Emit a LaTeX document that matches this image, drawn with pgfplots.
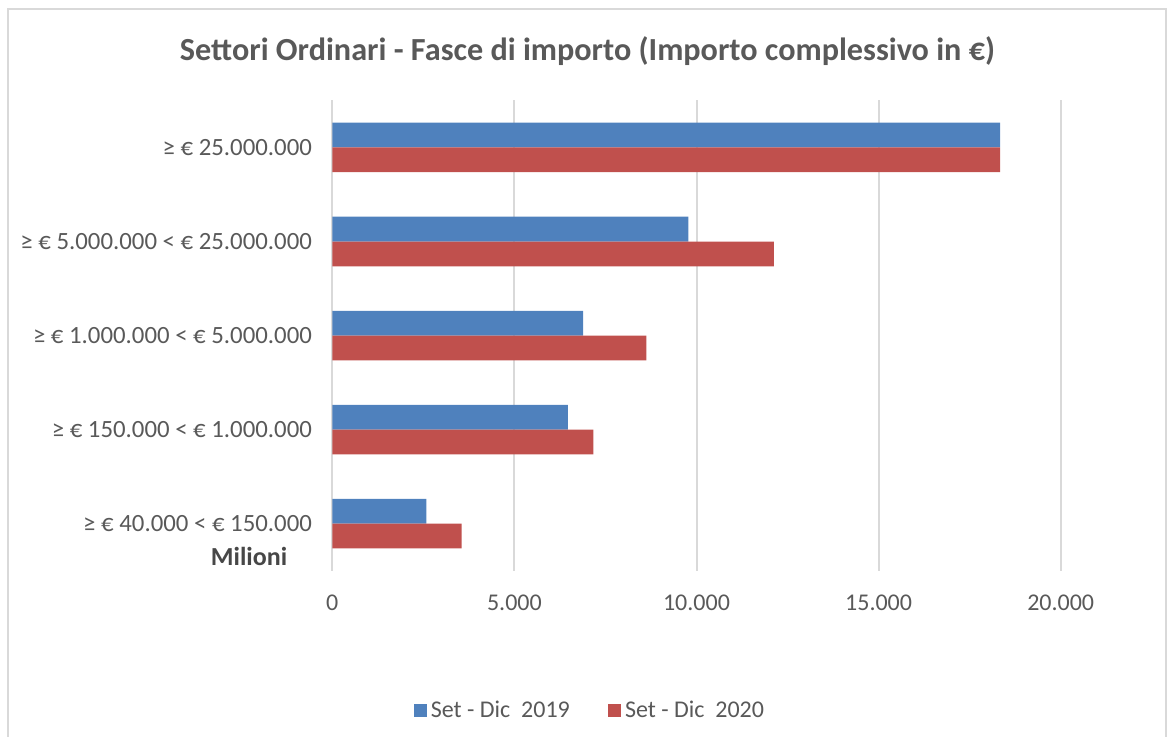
\documentclass[border=0pt]{standalone}
\usepackage{fontspec}
\setmainfont{Carlito}
\usepackage{pgfplots}
\pgfplotsset{compat=1.18}

\definecolor{serieblu}{HTML}{4F81BD}
\definecolor{serierossa}{HTML}{C0504D}
\definecolor{griglia}{HTML}{D9D9D9}
\definecolor{testo}{HTML}{595959}

\begin{document}
\begin{tikzpicture}
% page = 1167 x 737 px at 2 px per pt
\useasboundingbox (0pt,0pt) rectangle (583.5pt,-368.5pt);
\draw[griglia, line width=1pt] (3.75pt,-400pt) -- (3.75pt,-4.5pt) -- (583pt,-4.5pt) -- (583pt,-400pt);

\node[anchor=base, text=testo, font=\bfseries\fontsize{16.1}{19}\selectfont]
  at (293.75pt,-30.5pt) {Settori Ordinari - Fasce di importo (Importo complessivo in €)};
\node[text=testo!80!black, font=\bfseries\fontsize{13}{15}\selectfont]
  at (124.5pt,-278pt) {Milioni};

\begin{axis}[
    at={(166.15pt,-285.35pt)}, anchor=south west,
    scale only axis,
    width=364.2pt, height=235.15pt,
    xbar, bar width=12.4pt,
    xmin=0, xmax=20000,
    ymin=-0.5, ymax=4.5, y dir=reverse,
    axis lines=left,
    axis line style={draw=none},
    major tick length=0pt,
    xtick={0,5000,10000,15000,20000},
    scaled x ticks=false,
    xmajorgrids, grid style={griglia, line width=1pt},
    ytick={0,1,2,3,4},
    yticklabels={
      ≥ € 25.000.000,
      ≥ € 5.000.000 < € 25.000.000,
      ≥ € 1.000.000 < € 5.000.000,
      ≥ € 150.000 < € 1.000.000,
      ≥ € 40.000 < € 150.000},
    /pgf/number format/.cd, 1000 sep={.}, assume math mode=true,
    /pgfplots/.cd,
    xticklabel style={font=\fontsize{12}{14}\selectfont, text=testo, inner sep=0pt, yshift=-11.7pt},
    yticklabel style={font=\fontsize{12.4}{14}\selectfont, text=testo, inner sep=0pt, xshift=-10pt},
    legend columns=-1,
    legend style={at={(0.355,-0.298)}, anchor=center, draw=none,
      font=\fontsize{12}{14}\selectfont, text=testo,
      /tikz/every even column/.append style={column sep=17pt}},
    legend image code/.code={\fill[#1] (0pt,-3.3pt) rectangle (6.6pt,3.3pt);},
  ]
  \addplot[draw=none, fill=serieblu, bar shift=6.2pt] coordinates {
    (18335,0) (9780,1) (6884,2) (6465,3) (2584,4)};
  \addplot[draw=none, fill=serierossa, bar shift=-6.2pt] coordinates {
    (18335,0) (12124,1) (8624,2) (7170,3) (3550,4)};
  \legend{Set - Dic\ \ 2019, Set - Dic\ \ 2020}
\end{axis}
\end{tikzpicture}
\end{document}
